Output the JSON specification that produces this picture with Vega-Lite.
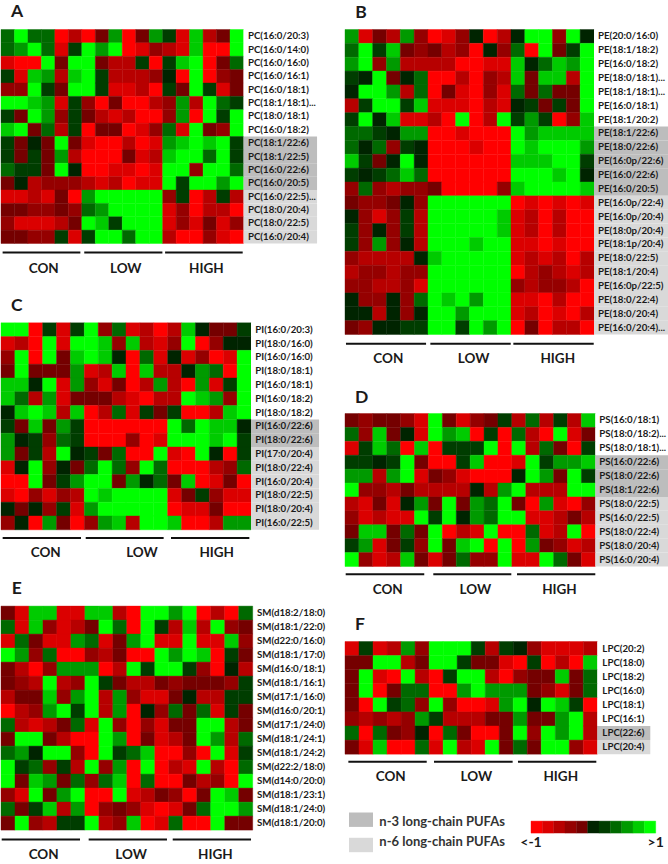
{"$schema":"https://vega.github.io/schema/vega-lite/v6.json","background":"white","padding":{"left":0,"top":2.5,"right":0,"bottom":0},"autosize":{"type":"pad"},"config":{"view":{"stroke":null},"text":{"font":"Lato","fontWeight":"bold","color":"#1a1a1a"}},
"datasets":{
"A":[
{"r":0,"c":0,"v":2},{"r":0,"c":1,"v":5},{"r":0,"c":2,"v":2},{"r":0,"c":3,"v":2},{"r":0,"c":4,"v":-5},{"r":0,"c":5,"v":-3},{"r":0,"c":6,"v":-5},{"r":0,"c":7,"v":-1},{"r":0,"c":8,"v":3},{"r":0,"c":9,"v":-5},{"r":0,"c":10,"v":-1},{"r":0,"c":11,"v":3},{"r":0,"c":12,"v":1},{"r":0,"c":13,"v":-4},{"r":0,"c":14,"v":4},{"r":0,"c":15,"v":-3},{"r":0,"c":16,"v":-1},{"r":0,"c":17,"v":5},
{"r":1,"c":0,"v":2},{"r":1,"c":1,"v":3},{"r":1,"c":2,"v":5},{"r":1,"c":3,"v":2},{"r":1,"c":4,"v":-4},{"r":1,"c":5,"v":1},{"r":1,"c":6,"v":5},{"r":1,"c":7,"v":3},{"r":1,"c":8,"v":5},{"r":1,"c":9,"v":-5},{"r":1,"c":10,"v":-4},{"r":1,"c":11,"v":-2},{"r":1,"c":12,"v":-3},{"r":1,"c":13,"v":-4},{"r":1,"c":14,"v":4},{"r":1,"c":15,"v":-5},{"r":1,"c":16,"v":-5},{"r":1,"c":17,"v":5},
{"r":2,"c":0,"v":-4},{"r":2,"c":1,"v":-5},{"r":2,"c":2,"v":-5},{"r":2,"c":3,"v":5},{"r":2,"c":4,"v":-1},{"r":2,"c":5,"v":5},{"r":2,"c":6,"v":5},{"r":2,"c":7,"v":-1},{"r":2,"c":8,"v":-3},{"r":2,"c":9,"v":-3},{"r":2,"c":10,"v":1},{"r":2,"c":11,"v":-5},{"r":2,"c":12,"v":1},{"r":2,"c":13,"v":4},{"r":2,"c":14,"v":5},{"r":2,"c":15,"v":-5},{"r":2,"c":16,"v":-1},{"r":2,"c":17,"v":2},
{"r":3,"c":0,"v":1},{"r":3,"c":1,"v":-4},{"r":3,"c":2,"v":4},{"r":3,"c":3,"v":3},{"r":3,"c":4,"v":-3},{"r":3,"c":5,"v":4},{"r":3,"c":6,"v":5},{"r":3,"c":7,"v":1},{"r":3,"c":8,"v":-3},{"r":3,"c":9,"v":-3},{"r":3,"c":10,"v":-3},{"r":3,"c":11,"v":-2},{"r":3,"c":12,"v":0},{"r":3,"c":13,"v":-5},{"r":3,"c":14,"v":5},{"r":3,"c":15,"v":-5},{"r":3,"c":16,"v":-2},{"r":3,"c":17,"v":-1},
{"r":4,"c":0,"v":-2},{"r":4,"c":1,"v":-2},{"r":4,"c":2,"v":5},{"r":4,"c":3,"v":1},{"r":4,"c":4,"v":-1},{"r":4,"c":5,"v":5},{"r":4,"c":6,"v":5},{"r":4,"c":7,"v":1},{"r":4,"c":8,"v":-4},{"r":4,"c":9,"v":-4},{"r":4,"c":10,"v":-3},{"r":4,"c":11,"v":-5},{"r":4,"c":12,"v":1},{"r":4,"c":13,"v":-1},{"r":4,"c":14,"v":5},{"r":4,"c":15,"v":1},{"r":4,"c":16,"v":-4},{"r":4,"c":17,"v":-1},
{"r":5,"c":0,"v":5},{"r":5,"c":1,"v":5},{"r":5,"c":2,"v":4},{"r":5,"c":3,"v":3},{"r":5,"c":4,"v":-4},{"r":5,"c":5,"v":1},{"r":5,"c":6,"v":-2},{"r":5,"c":7,"v":-5},{"r":5,"c":8,"v":-1},{"r":5,"c":9,"v":-5},{"r":5,"c":10,"v":-5},{"r":5,"c":11,"v":-3},{"r":5,"c":12,"v":-2},{"r":5,"c":13,"v":3},{"r":5,"c":14,"v":-3},{"r":5,"c":15,"v":5},{"r":5,"c":16,"v":2},{"r":5,"c":17,"v":1},
{"r":6,"c":0,"v":1},{"r":6,"c":1,"v":-1},{"r":6,"c":2,"v":5},{"r":6,"c":3,"v":3},{"r":6,"c":4,"v":-2},{"r":6,"c":5,"v":1},{"r":6,"c":6,"v":-1},{"r":6,"c":7,"v":-3},{"r":6,"c":8,"v":-4},{"r":6,"c":9,"v":-3},{"r":6,"c":10,"v":-5},{"r":6,"c":11,"v":-5},{"r":6,"c":12,"v":-2},{"r":6,"c":13,"v":3},{"r":6,"c":14,"v":-5},{"r":6,"c":15,"v":5},{"r":6,"c":16,"v":1},{"r":6,"c":17,"v":5},
{"r":7,"c":0,"v":4},{"r":7,"c":1,"v":5},{"r":7,"c":2,"v":-1},{"r":7,"c":3,"v":2},{"r":7,"c":4,"v":-3},{"r":7,"c":5,"v":1},{"r":7,"c":6,"v":-5},{"r":7,"c":7,"v":-1},{"r":7,"c":8,"v":-1},{"r":7,"c":9,"v":-5},{"r":7,"c":10,"v":-4},{"r":7,"c":11,"v":-2},{"r":7,"c":12,"v":2},{"r":7,"c":13,"v":-4},{"r":7,"c":14,"v":5},{"r":7,"c":15,"v":-1},{"r":7,"c":16,"v":-2},{"r":7,"c":17,"v":5},
{"r":8,"c":0,"v":1},{"r":8,"c":1,"v":-1},{"r":8,"c":2,"v":0},{"r":8,"c":3,"v":-1},{"r":8,"c":4,"v":5},{"r":8,"c":5,"v":-1},{"r":8,"c":6,"v":-4},{"r":8,"c":7,"v":-5},{"r":8,"c":8,"v":-5},{"r":8,"c":9,"v":-3},{"r":8,"c":10,"v":-5},{"r":8,"c":11,"v":-4},{"r":8,"c":12,"v":3},{"r":8,"c":13,"v":4},{"r":8,"c":14,"v":5},{"r":8,"c":15,"v":4},{"r":8,"c":16,"v":5},{"r":8,"c":17,"v":1},
{"r":9,"c":0,"v":1},{"r":9,"c":1,"v":-1},{"r":9,"c":2,"v":1},{"r":9,"c":3,"v":-1},{"r":9,"c":4,"v":3},{"r":9,"c":5,"v":-3},{"r":9,"c":6,"v":-5},{"r":9,"c":7,"v":-5},{"r":9,"c":8,"v":-5},{"r":9,"c":9,"v":-1},{"r":9,"c":10,"v":-4},{"r":9,"c":11,"v":-3},{"r":9,"c":12,"v":4},{"r":9,"c":13,"v":5},{"r":9,"c":14,"v":5},{"r":9,"c":15,"v":2},{"r":9,"c":16,"v":5},{"r":9,"c":17,"v":1},
{"r":10,"c":0,"v":2},{"r":10,"c":1,"v":1},{"r":10,"c":2,"v":1},{"r":10,"c":3,"v":-1},{"r":10,"c":4,"v":5},{"r":10,"c":5,"v":0},{"r":10,"c":6,"v":-5},{"r":10,"c":7,"v":-5},{"r":10,"c":8,"v":-4},{"r":10,"c":9,"v":-4},{"r":10,"c":10,"v":-5},{"r":10,"c":11,"v":-4},{"r":10,"c":12,"v":5},{"r":10,"c":13,"v":5},{"r":10,"c":14,"v":-2},{"r":10,"c":15,"v":5},{"r":10,"c":16,"v":5},{"r":10,"c":17,"v":2},
{"r":11,"c":0,"v":-1},{"r":11,"c":1,"v":0},{"r":11,"c":2,"v":-3},{"r":11,"c":3,"v":-2},{"r":11,"c":4,"v":-2},{"r":11,"c":5,"v":-2},{"r":11,"c":6,"v":-3},{"r":11,"c":7,"v":-4},{"r":11,"c":8,"v":-3},{"r":11,"c":9,"v":-5},{"r":11,"c":10,"v":-4},{"r":11,"c":11,"v":-4},{"r":11,"c":12,"v":5},{"r":11,"c":13,"v":1},{"r":11,"c":14,"v":5},{"r":11,"c":15,"v":5},{"r":11,"c":16,"v":3},{"r":11,"c":17,"v":5},
{"r":12,"c":0,"v":-4},{"r":12,"c":1,"v":-4},{"r":12,"c":2,"v":-3},{"r":12,"c":3,"v":-4},{"r":12,"c":4,"v":-1},{"r":12,"c":5,"v":-5},{"r":12,"c":6,"v":3},{"r":12,"c":7,"v":5},{"r":12,"c":8,"v":5},{"r":12,"c":9,"v":5},{"r":12,"c":10,"v":5},{"r":12,"c":11,"v":5},{"r":12,"c":12,"v":-2},{"r":12,"c":13,"v":1},{"r":12,"c":14,"v":-5},{"r":12,"c":15,"v":-3},{"r":12,"c":16,"v":1},{"r":12,"c":17,"v":-3},
{"r":13,"c":0,"v":-1},{"r":13,"c":1,"v":-1},{"r":13,"c":2,"v":-2},{"r":13,"c":3,"v":-2},{"r":13,"c":4,"v":-1},{"r":13,"c":5,"v":-2},{"r":13,"c":6,"v":2},{"r":13,"c":7,"v":3},{"r":13,"c":8,"v":5},{"r":13,"c":9,"v":5},{"r":13,"c":10,"v":5},{"r":13,"c":11,"v":5},{"r":13,"c":12,"v":-4},{"r":13,"c":13,"v":-2},{"r":13,"c":14,"v":-5},{"r":13,"c":15,"v":-3},{"r":13,"c":16,"v":-3},{"r":13,"c":17,"v":-5},
{"r":14,"c":0,"v":-2},{"r":14,"c":1,"v":-4},{"r":14,"c":2,"v":-4},{"r":14,"c":3,"v":-4},{"r":14,"c":4,"v":-3},{"r":14,"c":5,"v":-1},{"r":14,"c":6,"v":5},{"r":14,"c":7,"v":4},{"r":14,"c":8,"v":1},{"r":14,"c":9,"v":5},{"r":14,"c":10,"v":5},{"r":14,"c":11,"v":5},{"r":14,"c":12,"v":-4},{"r":14,"c":13,"v":-2},{"r":14,"c":14,"v":-4},{"r":14,"c":15,"v":-1},{"r":14,"c":16,"v":-4},{"r":14,"c":17,"v":-2},
{"r":15,"c":0,"v":-1},{"r":15,"c":1,"v":-1},{"r":15,"c":2,"v":-2},{"r":15,"c":3,"v":-2},{"r":15,"c":4,"v":1},{"r":15,"c":5,"v":-4},{"r":15,"c":6,"v":1},{"r":15,"c":7,"v":5},{"r":15,"c":8,"v":5},{"r":15,"c":9,"v":2},{"r":15,"c":10,"v":5},{"r":15,"c":11,"v":5},{"r":15,"c":12,"v":-3},{"r":15,"c":13,"v":-5},{"r":15,"c":14,"v":-5},{"r":15,"c":15,"v":-2},{"r":15,"c":16,"v":-4},{"r":15,"c":17,"v":-5}],
"B":[
{"r":0,"c":0,"v":3},{"r":0,"c":1,"v":-4},{"r":0,"c":2,"v":-1},{"r":0,"c":3,"v":-3},{"r":0,"c":4,"v":3},{"r":0,"c":5,"v":-2},{"r":0,"c":6,"v":-5},{"r":0,"c":7,"v":-4},{"r":0,"c":8,"v":-2},{"r":0,"c":9,"v":0},{"r":0,"c":10,"v":-5},{"r":0,"c":11,"v":-3},{"r":0,"c":12,"v":0},{"r":0,"c":13,"v":5},{"r":0,"c":14,"v":5},{"r":0,"c":15,"v":-2},{"r":0,"c":16,"v":5},{"r":0,"c":17,"v":0},
{"r":1,"c":0,"v":2},{"r":1,"c":1,"v":5},{"r":1,"c":2,"v":1},{"r":1,"c":3,"v":4},{"r":1,"c":4,"v":-1},{"r":1,"c":5,"v":-2},{"r":1,"c":6,"v":-1},{"r":1,"c":7,"v":-3},{"r":1,"c":8,"v":-2},{"r":1,"c":9,"v":-5},{"r":1,"c":10,"v":0},{"r":1,"c":11,"v":-2},{"r":1,"c":12,"v":2},{"r":1,"c":13,"v":-5},{"r":1,"c":14,"v":5},{"r":1,"c":15,"v":-1},{"r":1,"c":16,"v":1},{"r":1,"c":17,"v":5},
{"r":2,"c":0,"v":3},{"r":2,"c":1,"v":5},{"r":2,"c":2,"v":-2},{"r":2,"c":3,"v":3},{"r":2,"c":4,"v":-3},{"r":2,"c":5,"v":-3},{"r":2,"c":6,"v":-3},{"r":2,"c":7,"v":-3},{"r":2,"c":8,"v":-5},{"r":2,"c":9,"v":-5},{"r":2,"c":10,"v":-4},{"r":2,"c":11,"v":-4},{"r":2,"c":12,"v":4},{"r":2,"c":13,"v":0},{"r":2,"c":14,"v":2},{"r":2,"c":15,"v":4},{"r":2,"c":16,"v":3},{"r":2,"c":17,"v":5},
{"r":3,"c":0,"v":1},{"r":3,"c":1,"v":0},{"r":3,"c":2,"v":5},{"r":3,"c":3,"v":-1},{"r":3,"c":4,"v":0},{"r":3,"c":5,"v":2},{"r":3,"c":6,"v":-5},{"r":3,"c":7,"v":-5},{"r":3,"c":8,"v":-3},{"r":3,"c":9,"v":-5},{"r":3,"c":10,"v":-2},{"r":3,"c":11,"v":-3},{"r":3,"c":12,"v":4},{"r":3,"c":13,"v":-1},{"r":3,"c":14,"v":4},{"r":3,"c":15,"v":4},{"r":3,"c":16,"v":-3},{"r":3,"c":17,"v":5},
{"r":4,"c":0,"v":0},{"r":4,"c":1,"v":5},{"r":4,"c":2,"v":5},{"r":4,"c":3,"v":3},{"r":4,"c":4,"v":-3},{"r":4,"c":5,"v":2},{"r":4,"c":6,"v":-5},{"r":4,"c":7,"v":-1},{"r":4,"c":8,"v":-4},{"r":4,"c":9,"v":-5},{"r":4,"c":10,"v":-2},{"r":4,"c":11,"v":-4},{"r":4,"c":12,"v":2},{"r":4,"c":13,"v":-1},{"r":4,"c":14,"v":2},{"r":4,"c":15,"v":-1},{"r":4,"c":16,"v":-1},{"r":4,"c":17,"v":5},
{"r":5,"c":0,"v":-3},{"r":5,"c":1,"v":1},{"r":5,"c":2,"v":5},{"r":5,"c":3,"v":5},{"r":5,"c":4,"v":1},{"r":5,"c":5,"v":4},{"r":5,"c":6,"v":-4},{"r":5,"c":7,"v":-4},{"r":5,"c":8,"v":-4},{"r":5,"c":9,"v":-5},{"r":5,"c":10,"v":-3},{"r":5,"c":11,"v":-4},{"r":5,"c":12,"v":0},{"r":5,"c":13,"v":1},{"r":5,"c":14,"v":-1},{"r":5,"c":15,"v":1},{"r":5,"c":16,"v":-1},{"r":5,"c":17,"v":5},
{"r":6,"c":0,"v":1},{"r":6,"c":1,"v":5},{"r":6,"c":2,"v":0},{"r":6,"c":3,"v":4},{"r":6,"c":4,"v":-4},{"r":6,"c":5,"v":-4},{"r":6,"c":6,"v":-3},{"r":6,"c":7,"v":-5},{"r":6,"c":8,"v":5},{"r":6,"c":9,"v":-5},{"r":6,"c":10,"v":-3},{"r":6,"c":11,"v":5},{"r":6,"c":12,"v":1},{"r":6,"c":13,"v":3},{"r":6,"c":14,"v":1},{"r":6,"c":15,"v":-5},{"r":6,"c":16,"v":-2},{"r":6,"c":17,"v":4},
{"r":7,"c":0,"v":2},{"r":7,"c":1,"v":2},{"r":7,"c":2,"v":1},{"r":7,"c":3,"v":0},{"r":7,"c":4,"v":3},{"r":7,"c":5,"v":3},{"r":7,"c":6,"v":-5},{"r":7,"c":7,"v":-5},{"r":7,"c":8,"v":-4},{"r":7,"c":9,"v":-5},{"r":7,"c":10,"v":-5},{"r":7,"c":11,"v":-5},{"r":7,"c":12,"v":5},{"r":7,"c":13,"v":3},{"r":7,"c":14,"v":4},{"r":7,"c":15,"v":4},{"r":7,"c":16,"v":4},{"r":7,"c":17,"v":4},
{"r":8,"c":0,"v":2},{"r":8,"c":1,"v":0},{"r":8,"c":2,"v":2},{"r":8,"c":3,"v":-2},{"r":8,"c":4,"v":1},{"r":8,"c":5,"v":0},{"r":8,"c":6,"v":-5},{"r":8,"c":7,"v":-5},{"r":8,"c":8,"v":-5},{"r":8,"c":9,"v":-4},{"r":8,"c":10,"v":-5},{"r":8,"c":11,"v":-5},{"r":8,"c":12,"v":5},{"r":8,"c":13,"v":4},{"r":8,"c":14,"v":5},{"r":8,"c":15,"v":5},{"r":8,"c":16,"v":5},{"r":8,"c":17,"v":3},
{"r":9,"c":0,"v":4},{"r":9,"c":1,"v":1},{"r":9,"c":2,"v":-1},{"r":9,"c":3,"v":0},{"r":9,"c":4,"v":5},{"r":9,"c":5,"v":0},{"r":9,"c":6,"v":-5},{"r":9,"c":7,"v":-5},{"r":9,"c":8,"v":-5},{"r":9,"c":9,"v":-5},{"r":9,"c":10,"v":-5},{"r":9,"c":11,"v":-5},{"r":9,"c":12,"v":4},{"r":9,"c":13,"v":4},{"r":9,"c":14,"v":4},{"r":9,"c":15,"v":5},{"r":9,"c":16,"v":5},{"r":9,"c":17,"v":1},
{"r":10,"c":0,"v":1},{"r":10,"c":1,"v":0},{"r":10,"c":2,"v":1},{"r":10,"c":3,"v":2},{"r":10,"c":4,"v":4},{"r":10,"c":5,"v":2},{"r":10,"c":6,"v":-5},{"r":10,"c":7,"v":-5},{"r":10,"c":8,"v":-5},{"r":10,"c":9,"v":-5},{"r":10,"c":10,"v":-5},{"r":10,"c":11,"v":-5},{"r":10,"c":12,"v":5},{"r":10,"c":13,"v":5},{"r":10,"c":14,"v":5},{"r":10,"c":15,"v":4},{"r":10,"c":16,"v":5},{"r":10,"c":17,"v":0},
{"r":11,"c":0,"v":-2},{"r":11,"c":1,"v":2},{"r":11,"c":2,"v":-2},{"r":11,"c":3,"v":-3},{"r":11,"c":4,"v":-2},{"r":11,"c":5,"v":-2},{"r":11,"c":6,"v":-1},{"r":11,"c":7,"v":-5},{"r":11,"c":8,"v":-5},{"r":11,"c":9,"v":-5},{"r":11,"c":10,"v":-5},{"r":11,"c":11,"v":-2},{"r":11,"c":12,"v":4},{"r":11,"c":13,"v":5},{"r":11,"c":14,"v":5},{"r":11,"c":15,"v":5},{"r":11,"c":16,"v":5},{"r":11,"c":17,"v":4},
{"r":12,"c":0,"v":-1},{"r":12,"c":1,"v":-2},{"r":12,"c":2,"v":-2},{"r":12,"c":3,"v":-1},{"r":12,"c":4,"v":0},{"r":12,"c":5,"v":-2},{"r":12,"c":6,"v":5},{"r":12,"c":7,"v":5},{"r":12,"c":8,"v":5},{"r":12,"c":9,"v":5},{"r":12,"c":10,"v":5},{"r":12,"c":11,"v":5},{"r":12,"c":12,"v":-5},{"r":12,"c":13,"v":-4},{"r":12,"c":14,"v":-5},{"r":12,"c":15,"v":-4},{"r":12,"c":16,"v":-5},{"r":12,"c":17,"v":-4},
{"r":13,"c":0,"v":0},{"r":13,"c":1,"v":-2},{"r":13,"c":2,"v":-4},{"r":13,"c":3,"v":-2},{"r":13,"c":4,"v":1},{"r":13,"c":5,"v":-3},{"r":13,"c":6,"v":5},{"r":13,"c":7,"v":5},{"r":13,"c":8,"v":5},{"r":13,"c":9,"v":5},{"r":13,"c":10,"v":5},{"r":13,"c":11,"v":4},{"r":13,"c":12,"v":-4},{"r":13,"c":13,"v":-3},{"r":13,"c":14,"v":-5},{"r":13,"c":15,"v":-3},{"r":13,"c":16,"v":-5},{"r":13,"c":17,"v":-5},
{"r":14,"c":0,"v":1},{"r":14,"c":1,"v":-2},{"r":14,"c":2,"v":0},{"r":14,"c":3,"v":-2},{"r":14,"c":4,"v":1},{"r":14,"c":5,"v":-3},{"r":14,"c":6,"v":5},{"r":14,"c":7,"v":5},{"r":14,"c":8,"v":5},{"r":14,"c":9,"v":5},{"r":14,"c":10,"v":5},{"r":14,"c":11,"v":4},{"r":14,"c":12,"v":-4},{"r":14,"c":13,"v":-3},{"r":14,"c":14,"v":-5},{"r":14,"c":15,"v":-3},{"r":14,"c":16,"v":-5},{"r":14,"c":17,"v":-5},
{"r":15,"c":0,"v":1},{"r":15,"c":1,"v":-2},{"r":15,"c":2,"v":3},{"r":15,"c":3,"v":-2},{"r":15,"c":4,"v":0},{"r":15,"c":5,"v":-3},{"r":15,"c":6,"v":5},{"r":15,"c":7,"v":5},{"r":15,"c":8,"v":5},{"r":15,"c":9,"v":4},{"r":15,"c":10,"v":5},{"r":15,"c":11,"v":5},{"r":15,"c":12,"v":-4},{"r":15,"c":13,"v":-4},{"r":15,"c":14,"v":-5},{"r":15,"c":15,"v":-4},{"r":15,"c":16,"v":-5},{"r":15,"c":17,"v":-5},
{"r":16,"c":0,"v":-2},{"r":16,"c":1,"v":-3},{"r":16,"c":2,"v":-3},{"r":16,"c":3,"v":-3},{"r":16,"c":4,"v":-3},{"r":16,"c":5,"v":0},{"r":16,"c":6,"v":4},{"r":16,"c":7,"v":5},{"r":16,"c":8,"v":5},{"r":16,"c":9,"v":5},{"r":16,"c":10,"v":5},{"r":16,"c":11,"v":5},{"r":16,"c":12,"v":-4},{"r":16,"c":13,"v":-3},{"r":16,"c":14,"v":-4},{"r":16,"c":15,"v":-3},{"r":16,"c":16,"v":-5},{"r":16,"c":17,"v":-3},
{"r":17,"c":0,"v":-3},{"r":17,"c":1,"v":-2},{"r":17,"c":2,"v":-2},{"r":17,"c":3,"v":-3},{"r":17,"c":4,"v":-2},{"r":17,"c":5,"v":-2},{"r":17,"c":6,"v":5},{"r":17,"c":7,"v":5},{"r":17,"c":8,"v":5},{"r":17,"c":9,"v":5},{"r":17,"c":10,"v":5},{"r":17,"c":11,"v":5},{"r":17,"c":12,"v":-5},{"r":17,"c":13,"v":-3},{"r":17,"c":14,"v":-2},{"r":17,"c":15,"v":-3},{"r":17,"c":16,"v":-4},{"r":17,"c":17,"v":-3},
{"r":18,"c":0,"v":-2},{"r":18,"c":1,"v":-2},{"r":18,"c":2,"v":-3},{"r":18,"c":3,"v":-3},{"r":18,"c":4,"v":-2},{"r":18,"c":5,"v":-4},{"r":18,"c":6,"v":5},{"r":18,"c":7,"v":5},{"r":18,"c":8,"v":5},{"r":18,"c":9,"v":5},{"r":18,"c":10,"v":5},{"r":18,"c":11,"v":5},{"r":18,"c":12,"v":-2},{"r":18,"c":13,"v":-3},{"r":18,"c":14,"v":-2},{"r":18,"c":15,"v":-2},{"r":18,"c":16,"v":-3},{"r":18,"c":17,"v":-5},
{"r":19,"c":0,"v":0},{"r":19,"c":1,"v":-2},{"r":19,"c":2,"v":-2},{"r":19,"c":3,"v":0},{"r":19,"c":4,"v":-2},{"r":19,"c":5,"v":2},{"r":19,"c":6,"v":5},{"r":19,"c":7,"v":4},{"r":19,"c":8,"v":5},{"r":19,"c":9,"v":3},{"r":19,"c":10,"v":5},{"r":19,"c":11,"v":5},{"r":19,"c":12,"v":-4},{"r":19,"c":13,"v":-4},{"r":19,"c":14,"v":-5},{"r":19,"c":15,"v":-3},{"r":19,"c":16,"v":-5},{"r":19,"c":17,"v":-5},
{"r":20,"c":0,"v":0},{"r":20,"c":1,"v":0},{"r":20,"c":2,"v":-3},{"r":20,"c":3,"v":0},{"r":20,"c":4,"v":-2},{"r":20,"c":5,"v":0},{"r":20,"c":6,"v":5},{"r":20,"c":7,"v":5},{"r":20,"c":8,"v":3},{"r":20,"c":9,"v":5},{"r":20,"c":10,"v":5},{"r":20,"c":11,"v":5},{"r":20,"c":12,"v":-4},{"r":20,"c":13,"v":-3},{"r":20,"c":14,"v":-5},{"r":20,"c":15,"v":-4},{"r":20,"c":16,"v":-5},{"r":20,"c":17,"v":-3},
{"r":21,"c":0,"v":-1},{"r":21,"c":1,"v":-2},{"r":21,"c":2,"v":0},{"r":21,"c":3,"v":0},{"r":21,"c":4,"v":1},{"r":21,"c":5,"v":1},{"r":21,"c":6,"v":5},{"r":21,"c":7,"v":5},{"r":21,"c":8,"v":1},{"r":21,"c":9,"v":5},{"r":21,"c":10,"v":3},{"r":21,"c":11,"v":5},{"r":21,"c":12,"v":-5},{"r":21,"c":13,"v":-1},{"r":21,"c":14,"v":-5},{"r":21,"c":15,"v":-3},{"r":21,"c":16,"v":-3},{"r":21,"c":17,"v":-5}],
"C":[
{"r":0,"c":0,"v":5},{"r":0,"c":1,"v":5},{"r":0,"c":2,"v":-5},{"r":0,"c":3,"v":1},{"r":0,"c":4,"v":-4},{"r":0,"c":5,"v":1},{"r":0,"c":6,"v":5},{"r":0,"c":7,"v":-2},{"r":0,"c":8,"v":2},{"r":0,"c":9,"v":-4},{"r":0,"c":10,"v":-3},{"r":0,"c":11,"v":-5},{"r":0,"c":12,"v":-3},{"r":0,"c":13,"v":4},{"r":0,"c":14,"v":0},{"r":0,"c":15,"v":-1},{"r":0,"c":16,"v":-1},{"r":0,"c":17,"v":1},
{"r":1,"c":0,"v":-4},{"r":1,"c":1,"v":-3},{"r":1,"c":2,"v":-5},{"r":1,"c":3,"v":5},{"r":1,"c":4,"v":-4},{"r":1,"c":5,"v":5},{"r":1,"c":6,"v":5},{"r":1,"c":7,"v":4},{"r":1,"c":8,"v":-2},{"r":1,"c":9,"v":4},{"r":1,"c":10,"v":-3},{"r":1,"c":11,"v":-4},{"r":1,"c":12,"v":-2},{"r":1,"c":13,"v":5},{"r":1,"c":14,"v":-5},{"r":1,"c":15,"v":-2},{"r":1,"c":16,"v":0},{"r":1,"c":17,"v":0},
{"r":2,"c":0,"v":-2},{"r":2,"c":1,"v":5},{"r":2,"c":2,"v":-5},{"r":2,"c":3,"v":5},{"r":2,"c":4,"v":-1},{"r":2,"c":5,"v":4},{"r":2,"c":6,"v":5},{"r":2,"c":7,"v":4},{"r":2,"c":8,"v":0},{"r":2,"c":9,"v":-5},{"r":2,"c":10,"v":2},{"r":2,"c":11,"v":-4},{"r":2,"c":12,"v":0},{"r":2,"c":13,"v":-4},{"r":2,"c":14,"v":-2},{"r":2,"c":15,"v":-5},{"r":2,"c":16,"v":-4},{"r":2,"c":17,"v":5},
{"r":3,"c":0,"v":-1},{"r":3,"c":1,"v":5},{"r":3,"c":2,"v":-1},{"r":3,"c":3,"v":-1},{"r":3,"c":4,"v":-1},{"r":3,"c":5,"v":3},{"r":3,"c":6,"v":-4},{"r":3,"c":7,"v":-3},{"r":3,"c":8,"v":4},{"r":3,"c":9,"v":-5},{"r":3,"c":10,"v":4},{"r":3,"c":11,"v":-3},{"r":3,"c":12,"v":-3},{"r":3,"c":13,"v":0},{"r":3,"c":14,"v":3},{"r":3,"c":15,"v":2},{"r":3,"c":16,"v":-5},{"r":3,"c":17,"v":5},
{"r":4,"c":0,"v":4},{"r":4,"c":1,"v":4},{"r":4,"c":2,"v":0},{"r":4,"c":3,"v":5},{"r":4,"c":4,"v":-4},{"r":4,"c":5,"v":3},{"r":4,"c":6,"v":-2},{"r":4,"c":7,"v":-4},{"r":4,"c":8,"v":-1},{"r":4,"c":9,"v":-5},{"r":4,"c":10,"v":-3},{"r":4,"c":11,"v":3},{"r":4,"c":12,"v":-3},{"r":4,"c":13,"v":-5},{"r":4,"c":14,"v":3},{"r":4,"c":15,"v":-4},{"r":4,"c":16,"v":1},{"r":4,"c":17,"v":5},
{"r":5,"c":0,"v":4},{"r":5,"c":1,"v":2},{"r":5,"c":2,"v":-3},{"r":5,"c":3,"v":3},{"r":5,"c":4,"v":-4},{"r":5,"c":5,"v":-1},{"r":5,"c":6,"v":-1},{"r":5,"c":7,"v":-1},{"r":5,"c":8,"v":-3},{"r":5,"c":9,"v":-4},{"r":5,"c":10,"v":-5},{"r":5,"c":11,"v":-3},{"r":5,"c":12,"v":-3},{"r":5,"c":13,"v":5},{"r":5,"c":14,"v":4},{"r":5,"c":15,"v":3},{"r":5,"c":16,"v":-2},{"r":5,"c":17,"v":5},
{"r":6,"c":0,"v":0},{"r":6,"c":1,"v":4},{"r":6,"c":2,"v":5},{"r":6,"c":3,"v":4},{"r":6,"c":4,"v":-3},{"r":6,"c":5,"v":4},{"r":6,"c":6,"v":-5},{"r":6,"c":7,"v":-3},{"r":6,"c":8,"v":2},{"r":6,"c":9,"v":-4},{"r":6,"c":10,"v":1},{"r":6,"c":11,"v":-1},{"r":6,"c":12,"v":1},{"r":6,"c":13,"v":-5},{"r":6,"c":14,"v":-5},{"r":6,"c":15,"v":-3},{"r":6,"c":16,"v":4},{"r":6,"c":17,"v":5},
{"r":7,"c":0,"v":1},{"r":7,"c":1,"v":-1},{"r":7,"c":2,"v":4},{"r":7,"c":3,"v":-1},{"r":7,"c":4,"v":3},{"r":7,"c":5,"v":1},{"r":7,"c":6,"v":-5},{"r":7,"c":7,"v":-5},{"r":7,"c":8,"v":-5},{"r":7,"c":9,"v":-5},{"r":7,"c":10,"v":-5},{"r":7,"c":11,"v":-5},{"r":7,"c":12,"v":5},{"r":7,"c":13,"v":2},{"r":7,"c":14,"v":5},{"r":7,"c":15,"v":4},{"r":7,"c":16,"v":4},{"r":7,"c":17,"v":0},
{"r":8,"c":0,"v":3},{"r":8,"c":1,"v":0},{"r":8,"c":2,"v":1},{"r":8,"c":3,"v":-2},{"r":8,"c":4,"v":2},{"r":8,"c":5,"v":1},{"r":8,"c":6,"v":-5},{"r":8,"c":7,"v":-5},{"r":8,"c":8,"v":-5},{"r":8,"c":9,"v":-2},{"r":8,"c":10,"v":-5},{"r":8,"c":11,"v":-4},{"r":8,"c":12,"v":5},{"r":8,"c":13,"v":5},{"r":8,"c":14,"v":5},{"r":8,"c":15,"v":4},{"r":8,"c":16,"v":5},{"r":8,"c":17,"v":1},
{"r":9,"c":0,"v":3},{"r":9,"c":1,"v":-1},{"r":9,"c":2,"v":1},{"r":9,"c":3,"v":-3},{"r":9,"c":4,"v":5},{"r":9,"c":5,"v":0},{"r":9,"c":6,"v":1},{"r":9,"c":7,"v":-1},{"r":9,"c":8,"v":2},{"r":9,"c":9,"v":-5},{"r":9,"c":10,"v":-5},{"r":9,"c":11,"v":5},{"r":9,"c":12,"v":-4},{"r":9,"c":13,"v":-5},{"r":9,"c":14,"v":5},{"r":9,"c":15,"v":0},{"r":9,"c":16,"v":-5},{"r":9,"c":17,"v":1},
{"r":10,"c":0,"v":-4},{"r":10,"c":1,"v":0},{"r":10,"c":2,"v":5},{"r":10,"c":3,"v":-2},{"r":10,"c":4,"v":0},{"r":10,"c":5,"v":-1},{"r":10,"c":6,"v":2},{"r":10,"c":7,"v":5},{"r":10,"c":8,"v":2},{"r":10,"c":9,"v":-2},{"r":10,"c":10,"v":5},{"r":10,"c":11,"v":2},{"r":10,"c":12,"v":-5},{"r":10,"c":13,"v":-5},{"r":10,"c":14,"v":-5},{"r":10,"c":15,"v":-3},{"r":10,"c":16,"v":-2},{"r":10,"c":17,"v":2},
{"r":11,"c":0,"v":-5},{"r":11,"c":1,"v":-5},{"r":11,"c":2,"v":5},{"r":11,"c":3,"v":-1},{"r":11,"c":4,"v":1},{"r":11,"c":5,"v":3},{"r":11,"c":6,"v":5},{"r":11,"c":7,"v":5},{"r":11,"c":8,"v":-1},{"r":11,"c":9,"v":3},{"r":11,"c":10,"v":0},{"r":11,"c":11,"v":2},{"r":11,"c":12,"v":-1},{"r":11,"c":13,"v":4},{"r":11,"c":14,"v":-5},{"r":11,"c":15,"v":-4},{"r":11,"c":16,"v":-1},{"r":11,"c":17,"v":-5},
{"r":12,"c":0,"v":-4},{"r":12,"c":1,"v":-5},{"r":12,"c":2,"v":-2},{"r":12,"c":3,"v":-4},{"r":12,"c":4,"v":-2},{"r":12,"c":5,"v":-3},{"r":12,"c":6,"v":5},{"r":12,"c":7,"v":4},{"r":12,"c":8,"v":5},{"r":12,"c":9,"v":5},{"r":12,"c":10,"v":5},{"r":12,"c":11,"v":5},{"r":12,"c":12,"v":-4},{"r":12,"c":13,"v":-1},{"r":12,"c":14,"v":1},{"r":12,"c":15,"v":-2},{"r":12,"c":16,"v":-4},{"r":12,"c":17,"v":-4},
{"r":13,"c":0,"v":0},{"r":13,"c":1,"v":-1},{"r":13,"c":2,"v":0},{"r":13,"c":3,"v":-2},{"r":13,"c":4,"v":1},{"r":13,"c":5,"v":-4},{"r":13,"c":6,"v":3},{"r":13,"c":7,"v":5},{"r":13,"c":8,"v":5},{"r":13,"c":9,"v":5},{"r":13,"c":10,"v":5},{"r":13,"c":11,"v":5},{"r":13,"c":12,"v":-5},{"r":13,"c":13,"v":-4},{"r":13,"c":14,"v":-4},{"r":13,"c":15,"v":-1},{"r":13,"c":16,"v":-5},{"r":13,"c":17,"v":-5},
{"r":14,"c":0,"v":-2},{"r":14,"c":1,"v":0},{"r":14,"c":2,"v":-5},{"r":14,"c":3,"v":3},{"r":14,"c":4,"v":-1},{"r":14,"c":5,"v":-5},{"r":14,"c":6,"v":-2},{"r":14,"c":7,"v":3},{"r":14,"c":8,"v":4},{"r":14,"c":9,"v":-3},{"r":14,"c":10,"v":5},{"r":14,"c":11,"v":5},{"r":14,"c":12,"v":4},{"r":14,"c":13,"v":-5},{"r":14,"c":14,"v":-5},{"r":14,"c":15,"v":-3},{"r":14,"c":16,"v":3},{"r":14,"c":17,"v":3}],
"D":[
{"r":0,"c":0,"v":-1},{"r":0,"c":1,"v":-2},{"r":0,"c":2,"v":-1},{"r":0,"c":3,"v":-1},{"r":0,"c":4,"v":-2},{"r":0,"c":5,"v":-4},{"r":0,"c":6,"v":5},{"r":0,"c":7,"v":-1},{"r":0,"c":8,"v":-4},{"r":0,"c":9,"v":-2},{"r":0,"c":10,"v":-1},{"r":0,"c":11,"v":1},{"r":0,"c":12,"v":-3},{"r":0,"c":13,"v":2},{"r":0,"c":14,"v":-3},{"r":0,"c":15,"v":1},{"r":0,"c":16,"v":-3},{"r":0,"c":17,"v":4},
{"r":1,"c":0,"v":2},{"r":1,"c":1,"v":-2},{"r":1,"c":2,"v":4},{"r":1,"c":3,"v":-1},{"r":1,"c":4,"v":0},{"r":1,"c":5,"v":-4},{"r":1,"c":6,"v":5},{"r":1,"c":7,"v":3},{"r":1,"c":8,"v":4},{"r":1,"c":9,"v":-5},{"r":1,"c":10,"v":1},{"r":1,"c":11,"v":-5},{"r":1,"c":12,"v":2},{"r":1,"c":13,"v":-3},{"r":1,"c":14,"v":-5},{"r":1,"c":15,"v":5},{"r":1,"c":16,"v":-4},{"r":1,"c":17,"v":-1},
{"r":2,"c":0,"v":-4},{"r":2,"c":1,"v":1},{"r":2,"c":2,"v":4},{"r":2,"c":3,"v":2},{"r":2,"c":4,"v":-5},{"r":2,"c":5,"v":4},{"r":2,"c":6,"v":-5},{"r":2,"c":7,"v":1},{"r":2,"c":8,"v":1},{"r":2,"c":9,"v":1},{"r":2,"c":10,"v":5},{"r":2,"c":11,"v":-5},{"r":2,"c":12,"v":5},{"r":2,"c":13,"v":-3},{"r":2,"c":14,"v":2},{"r":2,"c":15,"v":-1},{"r":2,"c":16,"v":-5},{"r":2,"c":17,"v":1},
{"r":3,"c":0,"v":1},{"r":3,"c":1,"v":1},{"r":3,"c":2,"v":0},{"r":3,"c":3,"v":1},{"r":3,"c":4,"v":5},{"r":3,"c":5,"v":-1},{"r":3,"c":6,"v":-5},{"r":3,"c":7,"v":-5},{"r":3,"c":8,"v":1},{"r":3,"c":9,"v":4},{"r":3,"c":10,"v":-5},{"r":3,"c":11,"v":-5},{"r":3,"c":12,"v":-4},{"r":3,"c":13,"v":5},{"r":3,"c":14,"v":1},{"r":3,"c":15,"v":3},{"r":3,"c":16,"v":3},{"r":3,"c":17,"v":4},
{"r":4,"c":0,"v":3},{"r":4,"c":1,"v":3},{"r":4,"c":2,"v":-3},{"r":4,"c":3,"v":3},{"r":4,"c":4,"v":5},{"r":4,"c":5,"v":-4},{"r":4,"c":6,"v":-1},{"r":4,"c":7,"v":-2},{"r":4,"c":8,"v":-4},{"r":4,"c":9,"v":-5},{"r":4,"c":10,"v":-5},{"r":4,"c":11,"v":-5},{"r":4,"c":12,"v":0},{"r":4,"c":13,"v":5},{"r":4,"c":14,"v":3},{"r":4,"c":15,"v":-1},{"r":4,"c":16,"v":5},{"r":4,"c":17,"v":1},
{"r":5,"c":0,"v":5},{"r":5,"c":1,"v":-2},{"r":5,"c":2,"v":-2},{"r":5,"c":3,"v":-3},{"r":5,"c":4,"v":-1},{"r":5,"c":5,"v":-3},{"r":5,"c":6,"v":-3},{"r":5,"c":7,"v":-3},{"r":5,"c":8,"v":-3},{"r":5,"c":9,"v":0},{"r":5,"c":10,"v":-3},{"r":5,"c":11,"v":3},{"r":5,"c":12,"v":5},{"r":5,"c":13,"v":-3},{"r":5,"c":14,"v":-3},{"r":5,"c":15,"v":-3},{"r":5,"c":16,"v":5},{"r":5,"c":17,"v":5},
{"r":6,"c":0,"v":-3},{"r":6,"c":1,"v":-4},{"r":6,"c":2,"v":-1},{"r":6,"c":3,"v":-4},{"r":6,"c":4,"v":0},{"r":6,"c":5,"v":3},{"r":6,"c":6,"v":-1},{"r":6,"c":7,"v":5},{"r":6,"c":8,"v":-1},{"r":6,"c":9,"v":3},{"r":6,"c":10,"v":2},{"r":6,"c":11,"v":5},{"r":6,"c":12,"v":-1},{"r":6,"c":13,"v":-5},{"r":6,"c":14,"v":3},{"r":6,"c":15,"v":-4},{"r":6,"c":16,"v":-5},{"r":6,"c":17,"v":-2},
{"r":7,"c":0,"v":-2},{"r":7,"c":1,"v":-4},{"r":7,"c":2,"v":-3},{"r":7,"c":3,"v":-4},{"r":7,"c":4,"v":-4},{"r":7,"c":5,"v":5},{"r":7,"c":6,"v":1},{"r":7,"c":7,"v":5},{"r":7,"c":8,"v":0},{"r":7,"c":9,"v":3},{"r":7,"c":10,"v":2},{"r":7,"c":11,"v":5},{"r":7,"c":12,"v":5},{"r":7,"c":13,"v":-4},{"r":7,"c":14,"v":-4},{"r":7,"c":15,"v":-3},{"r":7,"c":16,"v":-1},{"r":7,"c":17,"v":-3},
{"r":8,"c":0,"v":-1},{"r":8,"c":1,"v":4},{"r":8,"c":2,"v":4},{"r":8,"c":3,"v":-1},{"r":8,"c":4,"v":2},{"r":8,"c":5,"v":-1},{"r":8,"c":6,"v":5},{"r":8,"c":7,"v":-5},{"r":8,"c":8,"v":-3},{"r":8,"c":9,"v":-4},{"r":8,"c":10,"v":5},{"r":8,"c":11,"v":-5},{"r":8,"c":12,"v":-5},{"r":8,"c":13,"v":2},{"r":8,"c":14,"v":-4},{"r":8,"c":15,"v":-3},{"r":8,"c":16,"v":5},{"r":8,"c":17,"v":-5},
{"r":9,"c":0,"v":1},{"r":9,"c":1,"v":3},{"r":9,"c":2,"v":-4},{"r":9,"c":3,"v":-1},{"r":9,"c":4,"v":1},{"r":9,"c":5,"v":-2},{"r":9,"c":6,"v":5},{"r":9,"c":7,"v":-1},{"r":9,"c":8,"v":4},{"r":9,"c":9,"v":5},{"r":9,"c":10,"v":-5},{"r":9,"c":11,"v":5},{"r":9,"c":12,"v":-5},{"r":9,"c":13,"v":3},{"r":9,"c":14,"v":-1},{"r":9,"c":15,"v":-2},{"r":9,"c":16,"v":-4},{"r":9,"c":17,"v":-3},
{"r":10,"c":0,"v":5},{"r":10,"c":1,"v":-2},{"r":10,"c":2,"v":-4},{"r":10,"c":3,"v":-3},{"r":10,"c":4,"v":4},{"r":10,"c":5,"v":-1},{"r":10,"c":6,"v":-4},{"r":10,"c":7,"v":-1},{"r":10,"c":8,"v":2},{"r":10,"c":9,"v":-2},{"r":10,"c":10,"v":-2},{"r":10,"c":11,"v":5},{"r":10,"c":12,"v":-4},{"r":10,"c":13,"v":-4},{"r":10,"c":14,"v":5},{"r":10,"c":15,"v":2},{"r":10,"c":16,"v":-1},{"r":10,"c":17,"v":-4}],
"E":[
{"r":0,"c":0,"v":-1},{"r":0,"c":1,"v":-4},{"r":0,"c":2,"v":4},{"r":0,"c":3,"v":4},{"r":0,"c":4,"v":-4},{"r":0,"c":5,"v":-4},{"r":0,"c":6,"v":4},{"r":0,"c":7,"v":4},{"r":0,"c":8,"v":-3},{"r":0,"c":9,"v":-5},{"r":0,"c":10,"v":5},{"r":0,"c":11,"v":5},{"r":0,"c":12,"v":3},{"r":0,"c":13,"v":5},{"r":0,"c":14,"v":-5},{"r":0,"c":15,"v":-3},{"r":0,"c":16,"v":-5},{"r":0,"c":17,"v":2},
{"r":1,"c":0,"v":2},{"r":1,"c":1,"v":-4},{"r":1,"c":2,"v":4},{"r":1,"c":3,"v":-2},{"r":1,"c":4,"v":-4},{"r":1,"c":5,"v":-3},{"r":1,"c":6,"v":-1},{"r":1,"c":7,"v":5},{"r":1,"c":8,"v":2},{"r":1,"c":9,"v":-5},{"r":1,"c":10,"v":5},{"r":1,"c":11,"v":1},{"r":1,"c":12,"v":-3},{"r":1,"c":13,"v":4},{"r":1,"c":14,"v":-3},{"r":1,"c":15,"v":5},{"r":1,"c":16,"v":-2},{"r":1,"c":17,"v":-1},
{"r":2,"c":0,"v":-4},{"r":2,"c":1,"v":2},{"r":2,"c":2,"v":-1},{"r":2,"c":3,"v":-4},{"r":2,"c":4,"v":-4},{"r":2,"c":5,"v":3},{"r":2,"c":6,"v":2},{"r":2,"c":7,"v":-4},{"r":2,"c":8,"v":-1},{"r":2,"c":9,"v":3},{"r":2,"c":10,"v":5},{"r":2,"c":11,"v":-4},{"r":2,"c":12,"v":-4},{"r":2,"c":13,"v":5},{"r":2,"c":14,"v":-4},{"r":2,"c":15,"v":-4},{"r":2,"c":16,"v":4},{"r":2,"c":17,"v":-2},
{"r":3,"c":0,"v":5},{"r":3,"c":1,"v":3},{"r":3,"c":2,"v":-2},{"r":3,"c":3,"v":2},{"r":3,"c":4,"v":-5},{"r":3,"c":5,"v":-5},{"r":3,"c":6,"v":-2},{"r":3,"c":7,"v":-3},{"r":3,"c":8,"v":-1},{"r":3,"c":9,"v":-5},{"r":3,"c":10,"v":-5},{"r":3,"c":11,"v":5},{"r":3,"c":12,"v":3},{"r":3,"c":13,"v":5},{"r":3,"c":14,"v":4},{"r":3,"c":15,"v":-5},{"r":3,"c":16,"v":1},{"r":3,"c":17,"v":-1},
{"r":4,"c":0,"v":-1},{"r":4,"c":1,"v":-3},{"r":4,"c":2,"v":-5},{"r":4,"c":3,"v":-2},{"r":4,"c":4,"v":3},{"r":4,"c":5,"v":3},{"r":4,"c":6,"v":3},{"r":4,"c":7,"v":-5},{"r":4,"c":8,"v":-3},{"r":4,"c":9,"v":5},{"r":4,"c":10,"v":1},{"r":4,"c":11,"v":5},{"r":4,"c":12,"v":5},{"r":4,"c":13,"v":1},{"r":4,"c":14,"v":-2},{"r":4,"c":15,"v":-5},{"r":4,"c":16,"v":0},{"r":4,"c":17,"v":-3},
{"r":5,"c":0,"v":-1},{"r":5,"c":1,"v":-2},{"r":5,"c":2,"v":-3},{"r":5,"c":3,"v":5},{"r":5,"c":4,"v":-3},{"r":5,"c":5,"v":-2},{"r":5,"c":6,"v":5},{"r":5,"c":7,"v":1},{"r":5,"c":8,"v":-1},{"r":5,"c":9,"v":-3},{"r":5,"c":10,"v":-3},{"r":5,"c":11,"v":-1},{"r":5,"c":12,"v":-2},{"r":5,"c":13,"v":-1},{"r":5,"c":14,"v":-1},{"r":5,"c":15,"v":-1},{"r":5,"c":16,"v":-2},{"r":5,"c":17,"v":1},
{"r":6,"c":0,"v":-3},{"r":6,"c":1,"v":-1},{"r":6,"c":2,"v":-1},{"r":6,"c":3,"v":4},{"r":6,"c":4,"v":-2},{"r":6,"c":5,"v":3},{"r":6,"c":6,"v":5},{"r":6,"c":7,"v":-3},{"r":6,"c":8,"v":3},{"r":6,"c":9,"v":-2},{"r":6,"c":10,"v":-4},{"r":6,"c":11,"v":-4},{"r":6,"c":12,"v":-1},{"r":6,"c":13,"v":0},{"r":6,"c":14,"v":-3},{"r":6,"c":15,"v":-3},{"r":6,"c":16,"v":1},{"r":6,"c":17,"v":1},
{"r":7,"c":0,"v":-5},{"r":7,"c":1,"v":-3},{"r":7,"c":2,"v":-2},{"r":7,"c":3,"v":3},{"r":7,"c":4,"v":5},{"r":7,"c":5,"v":1},{"r":7,"c":6,"v":5},{"r":7,"c":7,"v":-3},{"r":7,"c":8,"v":3},{"r":7,"c":9,"v":-5},{"r":7,"c":10,"v":0},{"r":7,"c":11,"v":-2},{"r":7,"c":12,"v":2},{"r":7,"c":13,"v":-1},{"r":7,"c":14,"v":2},{"r":7,"c":15,"v":-4},{"r":7,"c":16,"v":1},{"r":7,"c":17,"v":-1},
{"r":8,"c":0,"v":2},{"r":8,"c":1,"v":-3},{"r":8,"c":2,"v":-4},{"r":8,"c":3,"v":-3},{"r":8,"c":4,"v":-1},{"r":8,"c":5,"v":2},{"r":8,"c":6,"v":-4},{"r":8,"c":7,"v":5},{"r":8,"c":8,"v":-2},{"r":8,"c":9,"v":-5},{"r":8,"c":10,"v":-2},{"r":8,"c":11,"v":-4},{"r":8,"c":12,"v":-1},{"r":8,"c":13,"v":-1},{"r":8,"c":14,"v":5},{"r":8,"c":15,"v":5},{"r":8,"c":16,"v":-3},{"r":8,"c":17,"v":-1},
{"r":9,"c":0,"v":-1},{"r":9,"c":1,"v":5},{"r":9,"c":2,"v":5},{"r":9,"c":3,"v":-1},{"r":9,"c":4,"v":-3},{"r":9,"c":5,"v":-5},{"r":9,"c":6,"v":-5},{"r":9,"c":7,"v":5},{"r":9,"c":8,"v":3},{"r":9,"c":9,"v":-5},{"r":9,"c":10,"v":-1},{"r":9,"c":11,"v":-4},{"r":9,"c":12,"v":-3},{"r":9,"c":13,"v":-1},{"r":9,"c":14,"v":5},{"r":9,"c":15,"v":3},{"r":9,"c":16,"v":-3},{"r":9,"c":17,"v":2},
{"r":10,"c":0,"v":2},{"r":10,"c":1,"v":3},{"r":10,"c":2,"v":0},{"r":10,"c":3,"v":5},{"r":10,"c":4,"v":5},{"r":10,"c":5,"v":-2},{"r":10,"c":6,"v":-5},{"r":10,"c":7,"v":5},{"r":10,"c":8,"v":1},{"r":10,"c":9,"v":2},{"r":10,"c":10,"v":4},{"r":10,"c":11,"v":-5},{"r":10,"c":12,"v":-5},{"r":10,"c":13,"v":-2},{"r":10,"c":14,"v":-5},{"r":10,"c":15,"v":5},{"r":10,"c":16,"v":-4},{"r":10,"c":17,"v":1},
{"r":11,"c":0,"v":5},{"r":11,"c":1,"v":1},{"r":11,"c":2,"v":2},{"r":11,"c":3,"v":-2},{"r":11,"c":4,"v":1},{"r":11,"c":5,"v":-3},{"r":11,"c":6,"v":5},{"r":11,"c":7,"v":-2},{"r":11,"c":8,"v":3},{"r":11,"c":9,"v":-5},{"r":11,"c":10,"v":5},{"r":11,"c":11,"v":-5},{"r":11,"c":12,"v":-3},{"r":11,"c":13,"v":-4},{"r":11,"c":14,"v":5},{"r":11,"c":15,"v":-3},{"r":11,"c":16,"v":-5},{"r":11,"c":17,"v":2},
{"r":12,"c":0,"v":5},{"r":12,"c":1,"v":-1},{"r":12,"c":2,"v":4},{"r":12,"c":3,"v":3},{"r":12,"c":4,"v":-1},{"r":12,"c":5,"v":2},{"r":12,"c":6,"v":-2},{"r":12,"c":7,"v":2},{"r":12,"c":8,"v":4},{"r":12,"c":9,"v":-5},{"r":12,"c":10,"v":2},{"r":12,"c":11,"v":-5},{"r":12,"c":12,"v":-5},{"r":12,"c":13,"v":-1},{"r":12,"c":14,"v":-3},{"r":12,"c":15,"v":-2},{"r":12,"c":16,"v":-5},{"r":12,"c":17,"v":5},
{"r":13,"c":0,"v":-2},{"r":13,"c":1,"v":-4},{"r":13,"c":2,"v":5},{"r":13,"c":3,"v":-1},{"r":13,"c":4,"v":3},{"r":13,"c":5,"v":5},{"r":13,"c":6,"v":-5},{"r":13,"c":7,"v":-5},{"r":13,"c":8,"v":5},{"r":13,"c":9,"v":-4},{"r":13,"c":10,"v":-3},{"r":13,"c":11,"v":-1},{"r":13,"c":12,"v":-2},{"r":13,"c":13,"v":-5},{"r":13,"c":14,"v":-1},{"r":13,"c":15,"v":5},{"r":13,"c":16,"v":4},{"r":13,"c":17,"v":-1},
{"r":14,"c":0,"v":2},{"r":14,"c":1,"v":-1},{"r":14,"c":2,"v":1},{"r":14,"c":3,"v":4},{"r":14,"c":4,"v":-3},{"r":14,"c":5,"v":3},{"r":14,"c":6,"v":-5},{"r":14,"c":7,"v":-2},{"r":14,"c":8,"v":-1},{"r":14,"c":9,"v":-2},{"r":14,"c":10,"v":-4},{"r":14,"c":11,"v":-5},{"r":14,"c":12,"v":-4},{"r":14,"c":13,"v":-1},{"r":14,"c":14,"v":2},{"r":14,"c":15,"v":5},{"r":14,"c":16,"v":5},{"r":14,"c":17,"v":3},
{"r":15,"c":0,"v":-1},{"r":15,"c":1,"v":5},{"r":15,"c":2,"v":-2},{"r":15,"c":3,"v":-3},{"r":15,"c":4,"v":1},{"r":15,"c":5,"v":1},{"r":15,"c":6,"v":5},{"r":15,"c":7,"v":-3},{"r":15,"c":8,"v":-2},{"r":15,"c":9,"v":4},{"r":15,"c":10,"v":-5},{"r":15,"c":11,"v":-4},{"r":15,"c":12,"v":2},{"r":15,"c":13,"v":-5},{"r":15,"c":14,"v":-5},{"r":15,"c":15,"v":5},{"r":15,"c":16,"v":-1},{"r":15,"c":17,"v":-1}],
"F":[
{"r":0,"c":0,"v":-4},{"r":0,"c":1,"v":1},{"r":0,"c":2,"v":-4},{"r":0,"c":3,"v":-3},{"r":0,"c":4,"v":3},{"r":0,"c":5,"v":-2},{"r":0,"c":6,"v":5},{"r":0,"c":7,"v":5},{"r":0,"c":8,"v":5},{"r":0,"c":9,"v":1},{"r":0,"c":10,"v":-3},{"r":0,"c":11,"v":1},{"r":0,"c":12,"v":0},{"r":0,"c":13,"v":-2},{"r":0,"c":14,"v":-4},{"r":0,"c":15,"v":-4},{"r":0,"c":16,"v":-4},{"r":0,"c":17,"v":-3},
{"r":1,"c":0,"v":-1},{"r":1,"c":1,"v":-1},{"r":1,"c":2,"v":5},{"r":1,"c":3,"v":5},{"r":1,"c":4,"v":-3},{"r":1,"c":5,"v":-1},{"r":1,"c":6,"v":5},{"r":1,"c":7,"v":5},{"r":1,"c":8,"v":1},{"r":1,"c":9,"v":-1},{"r":1,"c":10,"v":-1},{"r":1,"c":11,"v":-4},{"r":1,"c":12,"v":-5},{"r":1,"c":13,"v":1},{"r":1,"c":14,"v":-5},{"r":1,"c":15,"v":-3},{"r":1,"c":16,"v":-5},{"r":1,"c":17,"v":4},
{"r":2,"c":0,"v":-1},{"r":2,"c":1,"v":5},{"r":2,"c":2,"v":-4},{"r":2,"c":3,"v":-5},{"r":2,"c":4,"v":5},{"r":2,"c":5,"v":-3},{"r":2,"c":6,"v":-5},{"r":2,"c":7,"v":1},{"r":2,"c":8,"v":5},{"r":2,"c":9,"v":5},{"r":2,"c":10,"v":-3},{"r":2,"c":11,"v":-5},{"r":2,"c":12,"v":-2},{"r":2,"c":13,"v":-1},{"r":2,"c":14,"v":-1},{"r":2,"c":15,"v":4},{"r":2,"c":16,"v":-1},{"r":2,"c":17,"v":2},
{"r":3,"c":0,"v":-1},{"r":3,"c":1,"v":5},{"r":3,"c":2,"v":-5},{"r":3,"c":3,"v":-1},{"r":3,"c":4,"v":2},{"r":3,"c":5,"v":2},{"r":3,"c":6,"v":-5},{"r":3,"c":7,"v":-5},{"r":3,"c":8,"v":3},{"r":3,"c":9,"v":5},{"r":3,"c":10,"v":3},{"r":3,"c":11,"v":3},{"r":3,"c":12,"v":3},{"r":3,"c":13,"v":-1},{"r":3,"c":14,"v":-2},{"r":3,"c":15,"v":-4},{"r":3,"c":16,"v":-1},{"r":3,"c":17,"v":2},
{"r":4,"c":0,"v":-1},{"r":4,"c":1,"v":-5},{"r":4,"c":2,"v":5},{"r":4,"c":3,"v":1},{"r":4,"c":4,"v":2},{"r":4,"c":5,"v":-2},{"r":4,"c":6,"v":5},{"r":4,"c":7,"v":-2},{"r":4,"c":8,"v":-5},{"r":4,"c":9,"v":-5},{"r":4,"c":10,"v":-4},{"r":4,"c":11,"v":3},{"r":4,"c":12,"v":5},{"r":4,"c":13,"v":0},{"r":4,"c":14,"v":5},{"r":4,"c":15,"v":4},{"r":4,"c":16,"v":1},{"r":4,"c":17,"v":-5},
{"r":5,"c":0,"v":-2},{"r":5,"c":1,"v":-3},{"r":5,"c":2,"v":-2},{"r":5,"c":3,"v":-3},{"r":5,"c":4,"v":-2},{"r":5,"c":5,"v":3},{"r":5,"c":6,"v":1},{"r":5,"c":7,"v":-3},{"r":5,"c":8,"v":-3},{"r":5,"c":9,"v":-3},{"r":5,"c":10,"v":-1},{"r":5,"c":11,"v":-1},{"r":5,"c":12,"v":3},{"r":5,"c":13,"v":-1},{"r":5,"c":14,"v":-1},{"r":5,"c":15,"v":3},{"r":5,"c":16,"v":5},{"r":5,"c":17,"v":-3},
{"r":6,"c":0,"v":2},{"r":6,"c":1,"v":-5},{"r":6,"c":2,"v":2},{"r":6,"c":3,"v":-1},{"r":6,"c":4,"v":-2},{"r":6,"c":5,"v":0},{"r":6,"c":6,"v":-5},{"r":6,"c":7,"v":2},{"r":6,"c":8,"v":-1},{"r":6,"c":9,"v":-5},{"r":6,"c":10,"v":-5},{"r":6,"c":11,"v":-1},{"r":6,"c":12,"v":5},{"r":6,"c":13,"v":-2},{"r":6,"c":14,"v":5},{"r":6,"c":15,"v":3},{"r":6,"c":16,"v":5},{"r":6,"c":17,"v":-3},
{"r":7,"c":0,"v":-1},{"r":7,"c":1,"v":-4},{"r":7,"c":2,"v":4},{"r":7,"c":3,"v":-5},{"r":7,"c":4,"v":-5},{"r":7,"c":5,"v":2},{"r":7,"c":6,"v":-4},{"r":7,"c":7,"v":5},{"r":7,"c":8,"v":-3},{"r":7,"c":9,"v":-4},{"r":7,"c":10,"v":5},{"r":7,"c":11,"v":-1},{"r":7,"c":12,"v":2},{"r":7,"c":13,"v":-1},{"r":7,"c":14,"v":5},{"r":7,"c":15,"v":5},{"r":7,"c":16,"v":-2},{"r":7,"c":17,"v":-4}],
"Alip":[{"r":0,"lipid":"PC(16:0/20:3)","class":"none"},{"r":1,"lipid":"PC(16:0/14:0)","class":"none"},{"r":2,"lipid":"PC(16:0/16:0)","class":"none"},{"r":3,"lipid":"PC(16:0/16:1)","class":"none"},{"r":4,"lipid":"PC(16:0/18:1)","class":"none"},{"r":5,"lipid":"PC(18:1/18:1)...","class":"none"},{"r":6,"lipid":"PC(18:0/18:1)","class":"none"},{"r":7,"lipid":"PC(16:0/18:2)","class":"none"},{"r":8,"lipid":"PC(18:1/22:6)","class":"n-3"},{"r":9,"lipid":"PC(18:1/22:5)","class":"n-3"},{"r":10,"lipid":"PC(16:0/22:6)","class":"n-3"},{"r":11,"lipid":"PC(16:0/20:5)","class":"n-3"},{"r":12,"lipid":"PC(16:0/22:5)...","class":"n-6"},{"r":13,"lipid":"PC(18:0/20:4)","class":"n-6"},{"r":14,"lipid":"PC(18:0/22:5)","class":"n-6"},{"r":15,"lipid":"PC(16:0/20:4)","class":"n-6"}],
"Blip":[{"r":0,"lipid":"PE(20:0/16:0)","class":"none"},{"r":1,"lipid":"PE(18:1/18:2)","class":"none"},{"r":2,"lipid":"PE(16:0/18:2)","class":"none"},{"r":3,"lipid":"PE(18:0/18:1)...","class":"none"},{"r":4,"lipid":"PE(18:1/18:1)...","class":"none"},{"r":5,"lipid":"PE(16:0/18:1)","class":"none"},{"r":6,"lipid":"PE(18:1/20:2)","class":"none"},{"r":7,"lipid":"PE(18:1/22:6)","class":"n-3"},{"r":8,"lipid":"PE(18:0/22:6)","class":"n-3"},{"r":9,"lipid":"PE(16:0p/22:6)","class":"n-3"},{"r":10,"lipid":"PE(16:0/22:6)","class":"n-3"},{"r":11,"lipid":"PE(16:0/20:5)","class":"n-3"},{"r":12,"lipid":"PE(16:0p/22:4)","class":"n-6"},{"r":13,"lipid":"PE(16:0p/20:4)","class":"n-6"},{"r":14,"lipid":"PE(18:0p/20:4)","class":"n-6"},{"r":15,"lipid":"PE(18:1p/20:4)","class":"n-6"},{"r":16,"lipid":"PE(18:0/22:5)","class":"n-6"},{"r":17,"lipid":"PE(18:1/20:4)","class":"n-6"},{"r":18,"lipid":"PE(16:0p/22:5)","class":"n-6"},{"r":19,"lipid":"PE(18:0/22:4)","class":"n-6"},{"r":20,"lipid":"PE(18:0/20:4)","class":"n-6"},{"r":21,"lipid":"PE(16:0/20:4)...","class":"n-6"}],
"Clip":[{"r":0,"lipid":"PI(16:0/20:3)","class":"none"},{"r":1,"lipid":"PI(18:0/16:0)","class":"none"},{"r":2,"lipid":"PI(16:0/16:0)","class":"none"},{"r":3,"lipid":"PI(18:0/18:1)","class":"none"},{"r":4,"lipid":"PI(16:0/18:1)","class":"none"},{"r":5,"lipid":"PI(16:0/18:2)","class":"none"},{"r":6,"lipid":"PI(18:0/18:2)","class":"none"},{"r":7,"lipid":"PI(16:0/22:6)","class":"n-3"},{"r":8,"lipid":"PI(18:0/22:6)","class":"n-3"},{"r":9,"lipid":"PI(17:0/20:4)","class":"n-6"},{"r":10,"lipid":"PI(18:0/22:4)","class":"n-6"},{"r":11,"lipid":"PI(16:0/20:4)","class":"n-6"},{"r":12,"lipid":"PI(18:0/22:5)","class":"n-6"},{"r":13,"lipid":"PI(18:0/20:4)","class":"n-6"},{"r":14,"lipid":"PI(16:0/22:5)","class":"n-6"}],
"Dlip":[{"r":0,"lipid":"PS(16:0/18:1)","class":"none"},{"r":1,"lipid":"PS(18:0/18:2)...","class":"none"},{"r":2,"lipid":"PS(18:0/18:1)...","class":"none"},{"r":3,"lipid":"PS(16:0/22:6)","class":"n-3"},{"r":4,"lipid":"PS(18:0/22:6)","class":"n-3"},{"r":5,"lipid":"PS(18:1/22:6)","class":"n-3"},{"r":6,"lipid":"PS(18:0/22:5)","class":"n-6"},{"r":7,"lipid":"PS(16:0/22:5)","class":"n-6"},{"r":8,"lipid":"PS(18:0/22:4)","class":"n-6"},{"r":9,"lipid":"PS(18:0/20:4)","class":"n-6"},{"r":10,"lipid":"PS(16:0/20:4)","class":"n-6"}],
"Elip":[{"r":0,"lipid":"SM(d18:2/18:0)","class":"none"},{"r":1,"lipid":"SM(d18:1/22:0)","class":"none"},{"r":2,"lipid":"SM(d22:0/16:0)","class":"none"},{"r":3,"lipid":"SM(d18:1/17:0)","class":"none"},{"r":4,"lipid":"SM(d16:0/18:1)","class":"none"},{"r":5,"lipid":"SM(d18:1/16:1)","class":"none"},{"r":6,"lipid":"SM(d17:1/16:0)","class":"none"},{"r":7,"lipid":"SM(d16:0/20:1)","class":"none"},{"r":8,"lipid":"SM(d17:1/24:0)","class":"none"},{"r":9,"lipid":"SM(d18:1/24:1)","class":"none"},{"r":10,"lipid":"SM(d18:1/24:2)","class":"none"},{"r":11,"lipid":"SM(d22:2/18:0)","class":"none"},{"r":12,"lipid":"SM(d14:0/20:0)","class":"none"},{"r":13,"lipid":"SM(d18:1/23:1)","class":"none"},{"r":14,"lipid":"SM(d18:1/24:0)","class":"none"},{"r":15,"lipid":"SM(d18:1/20:0)","class":"none"}],
"Flip":[{"r":0,"lipid":"LPC(20:2)","class":"none"},{"r":1,"lipid":"LPC(18:0)","class":"none"},{"r":2,"lipid":"LPC(18:2)","class":"none"},{"r":3,"lipid":"LPC(16:0)","class":"none"},{"r":4,"lipid":"LPC(18:1)","class":"none"},{"r":5,"lipid":"LPC(16:1)","class":"none"},{"r":6,"lipid":"LPC(22:6)","class":"n-3"},{"r":7,"lipid":"LPC(20:4)","class":"n-6"}],
"Agrp":[{"group":"CON","first":0.12,"last":5.89,"mid":3.17},{"group":"LOW","first":6.18,"last":11.98,"mid":9.26},{"group":"HIGH","first":12.18,"last":17.94,"mid":15.24}],
"Bgrp":[{"group":"CON","first":0.07,"last":5.86,"mid":3.13},{"group":"LOW","first":6.17,"last":11.98,"mid":9.3},{"group":"HIGH","first":12.17,"last":17.98,"mid":15.38}],
"Cgrp":[{"group":"CON","first":0.12,"last":5.76,"mid":3.22},{"group":"LOW","first":6.1,"last":11.71,"mid":10.15},{"group":"HIGH","first":12.24,"last":17.88,"mid":15.53}],
"Dgrp":[{"group":"CON","first":0.05,"last":5.7,"mid":3.07},{"group":"LOW","first":6.35,"last":11.96,"mid":9.37},{"group":"HIGH","first":12.37,"last":18,"mid":15.42}],
"Egrp":[{"group":"CON","first":0.05,"last":5.65,"mid":3.05},{"group":"LOW","first":6.27,"last":11.87,"mid":9.3},{"group":"HIGH","first":12.28,"last":17.88,"mid":15.33}],
"Fgrp":[{"group":"CON","first":0.24,"last":5.83,"mid":3.26},{"group":"LOW","first":6.35,"last":11.96,"mid":9.37},{"group":"HIGH","first":12.34,"last":17.93,"mid":15.39}]
},
"bounds":"flush","spacing":344,
"hconcat":[
{"bounds":"flush","spacing":76.3,"vconcat":[
{"width":242.5,"height":216.9,"resolve":{"scale":{"x":"independent","y":"independent"}},"layer":[
{"data":{"name":"A"},"mark":{"type":"rect","strokeWidth":0.4},"encoding":{"x":{"field":"c","type":"ordinal","axis":null},"y":{"field":"r","type":"ordinal","axis":null,"scale":{"range":[0,214]}},"color":{"field":"v","type":"quantitative","legend":null,"scale":{"domain":[-5,0,5],"range":["#ff0000","#000000","#00ff00"]}},"stroke":{"field":"v","type":"quantitative","legend":null,"scale":{"domain":[-5,0,5],"range":["#ff0000","#000000","#00ff00"]}}}},
{"data":{"name":"Alip"},"mark":{"type":"rect"},"encoding":{"x":{"datum":18,"type":"quantitative","axis":null,"scale":{"domain":[0,18]}},"x2":{"datum":23.46},"y":{"field":"r","type":"ordinal","axis":null,"scale":{"range":[0,214]}},"fill":{"field":"class","type":"nominal","legend":null,"scale":{"domain":["n-3","n-6","none"],"range":["#bdbdbd","#d9d9d9","#ffffff"]}}}},
{"data":{"name":"Alip"},"mark":{"type":"text","align":"left","baseline":"middle","fontSize":9.7},"encoding":{"x":{"datum":18.33,"type":"quantitative","axis":null,"scale":{"domain":[0,18]}},"y":{"field":"r","type":"ordinal","axis":null,"scale":{"range":[0,214]}},"text":{"field":"lipid"}}},
{"data":{"name":"Agrp"},"mark":{"type":"rule","strokeWidth":2,"color":"#111111"},"encoding":{"x":{"field":"first","type":"quantitative","axis":null,"scale":{"domain":[0,18]}},"x2":{"field":"last"},"y":{"datum":16.67,"type":"quantitative","axis":null,"scale":{"domain":[16.217,0]}}}},
{"data":{"name":"Agrp"},"mark":{"type":"text","baseline":"middle","fontSize":13.5},"encoding":{"x":{"field":"mid","type":"quantitative","axis":null,"scale":{"domain":[0,18]}},"y":{"datum":17.9,"type":"quantitative","axis":null,"scale":{"domain":[16.217,0]}},"text":{"field":"group"}}},
{"data":{"values":[{"panel":"A"}]},"mark":{"type":"text","baseline":"middle","fontSize":17.5},"encoding":{"x":{"datum":1.19,"type":"quantitative","axis":null,"scale":{"domain":[0,18]}},"y":{"datum":-1.3,"type":"quantitative","axis":null,"scale":{"domain":[16.217,0]}},"text":{"field":"panel"}}}]},
{"width":250,"height":207,"resolve":{"scale":{"x":"independent","y":"independent"}},"layer":[
{"data":{"name":"C"},"mark":{"type":"rect","strokeWidth":0.4},"encoding":{"x":{"field":"c","type":"ordinal","axis":null},"y":{"field":"r","type":"ordinal","axis":null},"color":{"field":"v","type":"quantitative","legend":null,"scale":{"domain":[-5,0,5],"range":["#ff0000","#000000","#00ff00"]}},"stroke":{"field":"v","type":"quantitative","legend":null,"scale":{"domain":[-5,0,5],"range":["#ff0000","#000000","#00ff00"]}}}},
{"data":{"name":"Clip"},"mark":{"type":"rect"},"encoding":{"x":{"datum":18,"type":"quantitative","axis":null,"scale":{"domain":[0,18]}},"x2":{"datum":22.9},"y":{"field":"r","type":"ordinal","axis":null},"fill":{"field":"class","type":"nominal","legend":null,"scale":{"domain":["n-3","n-6","none"],"range":["#bdbdbd","#d9d9d9","#ffffff"]}}}},
{"data":{"name":"Clip"},"mark":{"type":"text","align":"left","baseline":"middle","fontSize":9.7},"encoding":{"x":{"datum":18.31,"type":"quantitative","axis":null,"scale":{"domain":[0,18]}},"y":{"field":"r","type":"ordinal","axis":null},"text":{"field":"lipid"}}},
{"data":{"name":"Cgrp"},"mark":{"type":"rule","strokeWidth":2,"color":"#111111"},"encoding":{"x":{"field":"first","type":"quantitative","axis":null,"scale":{"domain":[0,18]}},"x2":{"field":"last"},"y":{"datum":15.6,"type":"quantitative","axis":null,"scale":{"domain":[15,0]}}}},
{"data":{"name":"Cgrp"},"mark":{"type":"text","baseline":"middle","fontSize":13.5},"encoding":{"x":{"field":"mid","type":"quantitative","axis":null,"scale":{"domain":[0,18]}},"y":{"datum":16.68,"type":"quantitative","axis":null,"scale":{"domain":[15,0]}},"text":{"field":"group"}}},
{"data":{"values":[{"panel":"C"}]},"mark":{"type":"text","baseline":"middle","fontSize":17.5},"encoding":{"x":{"datum":1.13,"type":"quantitative","axis":null,"scale":{"domain":[0,18]}},"y":{"datum":-1.21,"type":"quantitative","axis":null,"scale":{"domain":[15,0]}},"text":{"field":"panel"}}}]},
{"width":251.7,"height":224,"resolve":{"scale":{"x":"independent","y":"independent"}},"layer":[
{"data":{"name":"E"},"mark":{"type":"rect","strokeWidth":0.4},"encoding":{"x":{"field":"c","type":"ordinal","axis":null},"y":{"field":"r","type":"ordinal","axis":null},"color":{"field":"v","type":"quantitative","legend":null,"scale":{"domain":[-5,0,5],"range":["#ff0000","#000000","#00ff00"]}},"stroke":{"field":"v","type":"quantitative","legend":null,"scale":{"domain":[-5,0,5],"range":["#ff0000","#000000","#00ff00"]}}}},
{"data":{"name":"Elip"},"mark":{"type":"text","align":"left","baseline":"middle","fontSize":9.7},"encoding":{"x":{"datum":18.31,"type":"quantitative","axis":null,"scale":{"domain":[0,18]}},"y":{"field":"r","type":"ordinal","axis":null},"text":{"field":"lipid"}}},
{"data":{"name":"Egrp"},"mark":{"type":"rule","strokeWidth":2,"color":"#111111"},"encoding":{"x":{"field":"first","type":"quantitative","axis":null,"scale":{"domain":[0,18]}},"x2":{"field":"last"},"y":{"datum":16.67,"type":"quantitative","axis":null,"scale":{"domain":[16,0]}}}},
{"data":{"name":"Egrp"},"mark":{"type":"text","baseline":"middle","fontSize":13.5},"encoding":{"x":{"field":"mid","type":"quantitative","axis":null,"scale":{"domain":[0,18]}},"y":{"datum":17.79,"type":"quantitative","axis":null,"scale":{"domain":[16,0]}},"text":{"field":"group"}}},
{"data":{"values":[{"panel":"E"}]},"mark":{"type":"text","baseline":"middle","fontSize":17.5},"encoding":{"x":{"datum":1.12,"type":"quantitative","axis":null,"scale":{"domain":[0,18]}},"y":{"datum":-1.21,"type":"quantitative","axis":null,"scale":{"domain":[16,0]}},"text":{"field":"panel"}}}]}
]},
{"bounds":"flush","spacing":58,"vconcat":[
{"width":249,"height":326,"resolve":{"scale":{"x":"independent","y":"independent"}},"layer":[
{"data":{"name":"B"},"mark":{"type":"rect","strokeWidth":0.4},"encoding":{"x":{"field":"c","type":"ordinal","axis":null},"y":{"field":"r","type":"ordinal","axis":null,"scale":{"range":[0,305]}},"color":{"field":"v","type":"quantitative","legend":null,"scale":{"domain":[-5,0,5],"range":["#ff0000","#000000","#00ff00"]}},"stroke":{"field":"v","type":"quantitative","legend":null,"scale":{"domain":[-5,0,5],"range":["#ff0000","#000000","#00ff00"]}}}},
{"data":{"name":"Blip"},"mark":{"type":"rect"},"encoding":{"x":{"datum":18,"type":"quantitative","axis":null,"scale":{"domain":[0,18]}},"x2":{"datum":23.42},"y":{"field":"r","type":"ordinal","axis":null,"scale":{"range":[0,305]}},"fill":{"field":"class","type":"nominal","legend":null,"scale":{"domain":["n-3","n-6","none"],"range":["#bdbdbd","#d9d9d9","#ffffff"]}}}},
{"data":{"name":"Blip"},"mark":{"type":"text","align":"left","baseline":"middle","fontSize":9.7},"encoding":{"x":{"datum":18.29,"type":"quantitative","axis":null,"scale":{"domain":[0,18]}},"y":{"field":"r","type":"ordinal","axis":null,"scale":{"range":[0,305]}},"text":{"field":"lipid"}}},
{"data":{"name":"Bgrp"},"mark":{"type":"rule","strokeWidth":2,"color":"#111111"},"encoding":{"x":{"field":"first","type":"quantitative","axis":null,"scale":{"domain":[0,18]}},"x2":{"field":"last"},"y":{"datum":22.66,"type":"quantitative","axis":null,"scale":{"domain":[23.515,0]}}}},
{"data":{"name":"Bgrp"},"mark":{"type":"text","baseline":"middle","fontSize":13.5},"encoding":{"x":{"field":"mid","type":"quantitative","axis":null,"scale":{"domain":[0,18]}},"y":{"datum":23.8,"type":"quantitative","axis":null,"scale":{"domain":[23.515,0]}},"text":{"field":"group"}}},
{"data":{"values":[{"panel":"B"}]},"mark":{"type":"text","baseline":"middle","fontSize":17.5},"encoding":{"x":{"datum":1.16,"type":"quantitative","axis":null,"scale":{"domain":[0,18]}},"y":{"datum":-1.22,"type":"quantitative","axis":null,"scale":{"domain":[23.515,0]}},"text":{"field":"panel"}}}]},
{"width":250.3,"height":170,"resolve":{"scale":{"x":"independent","y":"independent"}},"layer":[
{"data":{"name":"D"},"mark":{"type":"rect","strokeWidth":0.4},"encoding":{"x":{"field":"c","type":"ordinal","axis":null},"y":{"field":"r","type":"ordinal","axis":null,"scale":{"range":[0,153]}},"color":{"field":"v","type":"quantitative","legend":null,"scale":{"domain":[-5,0,5],"range":["#ff0000","#000000","#00ff00"]}},"stroke":{"field":"v","type":"quantitative","legend":null,"scale":{"domain":[-5,0,5],"range":["#ff0000","#000000","#00ff00"]}}}},
{"data":{"name":"Dlip"},"mark":{"type":"rect"},"encoding":{"x":{"datum":18,"type":"quantitative","axis":null,"scale":{"domain":[0,18]}},"x2":{"datum":23.25},"y":{"field":"r","type":"ordinal","axis":null,"scale":{"range":[0,153]}},"fill":{"field":"class","type":"nominal","legend":null,"scale":{"domain":["n-3","n-6","none"],"range":["#bdbdbd","#d9d9d9","#ffffff"]}}}},
{"data":{"name":"Dlip"},"mark":{"type":"text","align":"left","baseline":"middle","fontSize":9.7},"encoding":{"x":{"datum":18.29,"type":"quantitative","axis":null,"scale":{"domain":[0,18]}},"y":{"field":"r","type":"ordinal","axis":null,"scale":{"range":[0,153]}},"text":{"field":"lipid"}}},
{"data":{"name":"Dgrp"},"mark":{"type":"rule","strokeWidth":2,"color":"#111111"},"encoding":{"x":{"field":"first","type":"quantitative","axis":null,"scale":{"domain":[0,18]}},"x2":{"field":"last"},"y":{"datum":11.56,"type":"quantitative","axis":null,"scale":{"domain":[12.222,0]}}}},
{"data":{"name":"Dgrp"},"mark":{"type":"text","baseline":"middle","fontSize":13.5},"encoding":{"x":{"field":"mid","type":"quantitative","axis":null,"scale":{"domain":[0,18]}},"y":{"datum":12.66,"type":"quantitative","axis":null,"scale":{"domain":[12.222,0]}},"text":{"field":"group"}}},
{"data":{"values":[{"panel":"D"}]},"mark":{"type":"text","baseline":"middle","fontSize":17.5},"encoding":{"x":{"datum":1.2,"type":"quantitative","axis":null,"scale":{"domain":[0,18]}},"y":{"datum":-1.08,"type":"quantitative","axis":null,"scale":{"domain":[12.222,0]}},"text":{"field":"panel"}}}]},
{"width":252.3,"height":112.7,"resolve":{"scale":{"x":"independent","y":"independent"}},"layer":[
{"data":{"name":"F"},"mark":{"type":"rect","strokeWidth":0.4},"encoding":{"x":{"field":"c","type":"ordinal","axis":null},"y":{"field":"r","type":"ordinal","axis":null},"color":{"field":"v","type":"quantitative","legend":null,"scale":{"domain":[-5,0,5],"range":["#ff0000","#000000","#00ff00"]}},"stroke":{"field":"v","type":"quantitative","legend":null,"scale":{"domain":[-5,0,5],"range":["#ff0000","#000000","#00ff00"]}}}},
{"data":{"name":"Flip"},"mark":{"type":"rect"},"encoding":{"x":{"datum":18,"type":"quantitative","axis":null,"scale":{"domain":[0,18]}},"x2":{"datum":21.78},"y":{"field":"r","type":"ordinal","axis":null},"fill":{"field":"class","type":"nominal","legend":null,"scale":{"domain":["n-3","n-6","none"],"range":["#bdbdbd","#d9d9d9","#ffffff"]}}}},
{"data":{"name":"Flip"},"mark":{"type":"text","align":"left","baseline":"middle","fontSize":9.7},"encoding":{"x":{"datum":18.36,"type":"quantitative","axis":null,"scale":{"domain":[0,18]}},"y":{"field":"r","type":"ordinal","axis":null},"text":{"field":"lipid"}}},
{"data":{"name":"Fgrp"},"mark":{"type":"rule","strokeWidth":2,"color":"#111111"},"encoding":{"x":{"field":"first","type":"quantitative","axis":null,"scale":{"domain":[0,18]}},"x2":{"field":"last"},"y":{"datum":8.54,"type":"quantitative","axis":null,"scale":{"domain":[8,0]}}}},
{"data":{"name":"Fgrp"},"mark":{"type":"text","baseline":"middle","fontSize":13.5},"encoding":{"x":{"field":"mid","type":"quantitative","axis":null,"scale":{"domain":[0,18]}},"y":{"datum":9.65,"type":"quantitative","axis":null,"scale":{"domain":[8,0]}},"text":{"field":"group"}}},
{"data":{"values":[{"panel":"F"}]},"mark":{"type":"text","baseline":"middle","fontSize":17.5},"encoding":{"x":{"datum":1.07,"type":"quantitative","axis":null,"scale":{"domain":[0,18]}},"y":{"datum":-1.14,"type":"quantitative","axis":null,"scale":{"domain":[8,0]}},"text":{"field":"panel"}}}]},
{"bounds":"flush","spacing":0,"hconcat":[
{"width":186,"height":39.7,"resolve":{"scale":{"x":"independent","y":"independent"}},"data":{"values":[{"class":"n-3","label":"n-3 long-chain PUFAs"},{"class":"n-6","label":"n-6 long-chain PUFAs"}]},"layer":[
{"mark":{"type":"rect"},"encoding":{"x":{"datum":4,"type":"quantitative","axis":null,"scale":{"domain":[0,186]}},"x2":{"datum":28},"y":{"field":"class","type":"nominal","axis":null,"scale":{"paddingInner":0.43,"paddingOuter":0}},"fill":{"field":"class","type":"nominal","legend":null,"scale":{"domain":["n-3","n-6","none"],"range":["#bdbdbd","#d9d9d9","#ffffff"]}}}},
{"mark":{"type":"text","align":"left","baseline":"middle","fontSize":13,"color":"#333333"},"encoding":{"x":{"datum":34.3,"type":"quantitative","axis":null,"scale":{"domain":[0,186]}},"y":{"field":"class","type":"nominal","axis":null,"scale":{"paddingInner":0.43,"paddingOuter":0}},"text":{"field":"label"}}}]},
{"width":124.7,"height":39.7,"resolve":{"scale":{"x":"independent","y":"independent"}},"layer":[
{"data":{"values":[{"v":-5},{"v":-4},{"v":-3},{"v":-2},{"v":-1},{"v":0},{"v":1},{"v":2},{"v":3},{"v":4},{"v":5}]},"mark":{"type":"rect","strokeWidth":0.4},"encoding":{"x":{"field":"v","type":"ordinal","axis":null},"y":{"datum":8.6,"type":"quantitative","axis":null,"scale":{"domain":[39.7,0]}},"y2":{"datum":20.6},"color":{"field":"v","type":"quantitative","legend":null,"scale":{"domain":[-5,0,5],"range":["#ff0000","#000000","#00ff00"]}},"stroke":{"field":"v","type":"quantitative","legend":null,"scale":{"domain":[-5,0,5],"range":["#ff0000","#000000","#00ff00"]}}}},
{"data":{"values":[{"label":"<-1","at":0},{"label":">1","at":11}]},"mark":{"type":"text","baseline":"middle","fontSize":14},"encoding":{"x":{"field":"at","type":"quantitative","axis":null,"scale":{"domain":[0,11]}},"y":{"datum":30.3,"type":"quantitative","axis":null,"scale":{"domain":[39.7,0]}},"text":{"field":"label"}}}]}
]}
]}
]}
